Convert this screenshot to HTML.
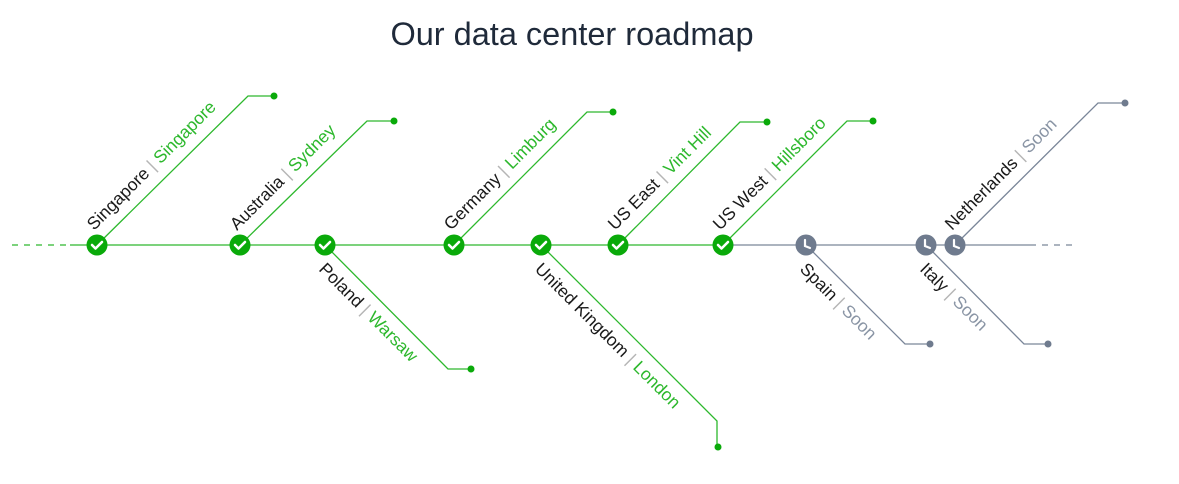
<!DOCTYPE html>
<html><head><meta charset="utf-8"><style>
html,body{margin:0;padding:0;background:#fff;}
svg text{font-family:"Liberation Sans",sans-serif;font-size:17.5px;}
</style></head><body>
<svg width="1179" height="479" viewBox="0 0 1179 479" xmlns="http://www.w3.org/2000/svg">
<text x="572" y="45" text-anchor="middle" style="font-size:32.5px" fill="#1f2a3a">Our data center roadmap</text>
<g stroke-width="1.3" fill="none">
<line x1="12" y1="245" x2="70" y2="245" stroke="#2db82d" stroke-dasharray="6,6"/>
<line x1="70" y1="245" x2="723" y2="245" stroke="#2db82d"/>
<line x1="723" y1="245" x2="1030" y2="245" stroke="#7a8699"/>
<line x1="1030" y1="245" x2="1076" y2="245" stroke="#7a8699" stroke-dasharray="6,6"/>
<polyline points="97,245 248,96 274,96" stroke="#2db82d"/>
<polyline points="240,245 367,121 394,121" stroke="#2db82d"/>
<polyline points="454,245 587,112 613,112" stroke="#2db82d"/>
<polyline points="618,245 740,122 767,122" stroke="#2db82d"/>
<polyline points="723,245 847,121 873,121" stroke="#2db82d"/>
<polyline points="955,245 1098,103 1125,103" stroke="#7a8699"/>
<polyline points="325,245 448,369 471,369" stroke="#2db82d"/>
<polyline points="541,245 717,421 717,447" stroke="#2db82d"/>
<polyline points="806,245 905,344 930,344" stroke="#7a8699"/>
<polyline points="926,245 1024,344 1048,344" stroke="#7a8699"/>
</g>
<g fill="#0aaa0a">
<circle cx="274" cy="96" r="3.5"/><circle cx="394" cy="121" r="3.5"/><circle cx="613" cy="112" r="3.5"/>
<circle cx="767" cy="122" r="3.5"/><circle cx="873" cy="121" r="3.5"/><circle cx="471" cy="369" r="3.5"/><circle cx="718" cy="447" r="3.5"/>
</g>
<g fill="#6f7b8e"><circle cx="1125" cy="103" r="3.5"/><circle cx="930" cy="344" r="3.5"/><circle cx="1048" cy="344" r="3.5"/></g>
<defs>
<g id="ok"><circle r="10.5" fill="#0aaa0a"/><polyline points="-5,0 -1.5,3.5 5,-3" fill="none" stroke="#fff" stroke-width="2.6" stroke-linecap="round" stroke-linejoin="round"/></g>
<g id="clk"><circle r="10.5" fill="#6f7b8e"/><polyline points="-1,-5 -1,1 4,3" fill="none" stroke="#fff" stroke-width="2.2" stroke-linecap="round"/></g>
</defs>
<use href="#ok" x="97" y="245"/><use href="#ok" x="240" y="245"/><use href="#ok" x="325" y="245"/>
<use href="#ok" x="454" y="245"/><use href="#ok" x="541" y="245"/><use href="#ok" x="618" y="245"/><use href="#ok" x="723" y="245"/>
<use href="#clk" x="806" y="245"/><use href="#clk" x="926" y="245"/><use href="#clk" x="955" y="245"/>
<g fill="#1a1a1a">
<text transform="translate(94,231) rotate(-45)">Singapore <tspan fill="#b5b5b5"> | </tspan> <tspan fill="#2db82d">Singapore</tspan></text>
<text transform="translate(237,231) rotate(-45)">Australia <tspan fill="#b5b5b5"> | </tspan> <tspan fill="#2db82d">Sydney</tspan></text>
<text transform="translate(451,231) rotate(-45)">Germany <tspan fill="#b5b5b5"> | </tspan> <tspan fill="#2db82d">Limburg</tspan></text>
<text transform="translate(615,231) rotate(-45)">US East <tspan fill="#b5b5b5"> | </tspan> <tspan fill="#2db82d">Vint Hill</tspan></text>
<text transform="translate(720,231) rotate(-45)">US West <tspan fill="#b5b5b5"> | </tspan> <tspan fill="#2db82d">Hillsboro</tspan></text>
<text transform="translate(952,231) rotate(-45)">Netherlands <tspan fill="#b5b5b5"> | </tspan> <tspan fill="#8a95a5">Soon</tspan></text>
<text transform="translate(318,270) rotate(45)">Poland <tspan fill="#b5b5b5"> | </tspan> <tspan fill="#2db82d">Warsaw</tspan></text>
<text transform="translate(534,270) rotate(45)">United Kingdom <tspan fill="#b5b5b5"> | </tspan> <tspan fill="#2db82d">London</tspan></text>
<text transform="translate(799,270) rotate(45)">Spain <tspan fill="#b5b5b5"> | </tspan> <tspan fill="#8a95a5">Soon</tspan></text>
<text transform="translate(919,270) rotate(45)">Italy <tspan fill="#b5b5b5"> | </tspan> <tspan fill="#8a95a5">Soon</tspan></text>
</g>
</svg>
</body></html>
